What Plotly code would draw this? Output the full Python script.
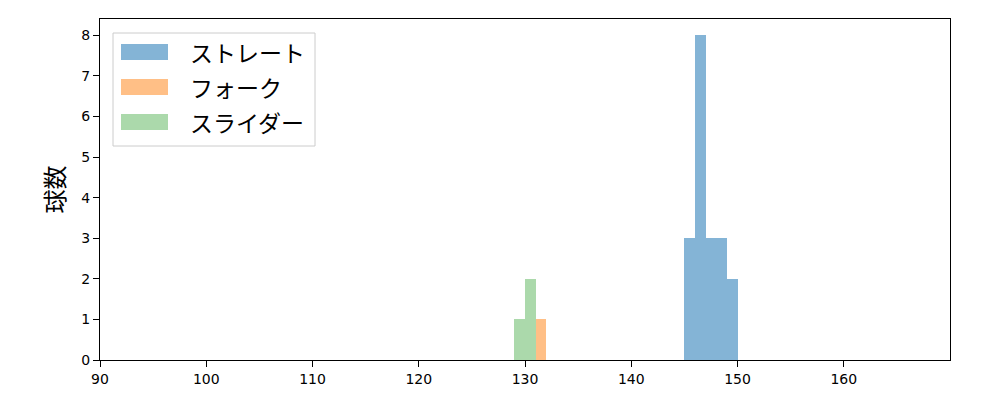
import plotly.graph_objects as go

# Histogram bins (width 1) and counts
series_names = ["ストレート", "フォーク", "スライダー"]
straight_bins = [145, 146, 147, 148, 149]
straight_counts = [3, 8, 3, 3, 2]
fork_bins = [131]
fork_counts = [1]
slider_bins = [129, 130]
slider_counts = [1, 2]
colors = ["rgba(31,119,180,0.55)", "rgba(255,127,14,0.5)", "rgba(44,160,44,0.4)"]
x_ticks = [90, 100, 110, 120, 130, 140, 150, 160]
y_ticks = [0, 1, 2, 3, 4, 5, 6, 7, 8]

JP = "Noto Sans CJK JP"
NUM = "DejaVu Sans"
OFF = 8  # page body margin
W, H = 1000, 400
# target plot area in screenshot pixels: x 100..950, y 19..360
L, T = 100 - OFF, 19 - OFF
pw, ph = 850, 341
R = W - L - pw
B = H - T - ph

def px(x):
    return (x - 100) / pw

def py(y):
    return (360 - y) / ph

fig = go.Figure()
for name, bins, counts, col in zip(series_names,
                                   [straight_bins, fork_bins, slider_bins],
                                   [straight_counts, fork_counts, slider_counts],
                                   colors):
    fig.add_trace(go.Bar(
        x=[b + 0.5 for b in bins], y=counts, width=1.0, name=name,
        marker=dict(color=col, line=dict(width=0)), showlegend=False,
    ))

# custom legend
shapes = [dict(type="rect", xref="paper", yref="paper",
               x0=px(113), x1=px(315), y0=py(146), y1=py(33),
               line=dict(color="#cccccc", width=1), fillcolor="rgba(255,255,255,0.8)", layer="above")]
annotations = []
for i, (name, col) in enumerate(zip(series_names, colors)):
    cy = 52 + 35 * i
    shapes.append(dict(type="rect", xref="paper", yref="paper",
                       x0=px(121), x1=px(168), y0=py(cy + 8), y1=py(cy - 8),
                       line=dict(width=0), fillcolor=col, layer="above"))
    annotations.append(dict(xref="paper", yref="paper", x=px(188), y=py(cy),
                            text=name, showarrow=False, xanchor="left", yanchor="middle",
                            font=dict(family=JP, size=23, color="black")))

axis_common = dict(ticks="outside", ticklen=6, tickwidth=1.2, tickcolor="black", showline=True,
                   linecolor="black", linewidth=1.3, mirror=True, showgrid=False,
                   zeroline=False, tickfont=dict(family=NUM, size=14, color="black"))

fig.update_layout(
    width=W, height=H, margin=dict(l=L, r=R, t=T, b=B),
    barmode="overlay", bargap=0,
    plot_bgcolor="white", paper_bgcolor="white",
    font=dict(family=NUM, size=14, color="black"),
    shapes=shapes, annotations=annotations,
    xaxis=dict(range=[90, 170], tickvals=x_ticks, **axis_common),
    yaxis=dict(range=[0, 8.4], tickvals=y_ticks,
               title=dict(text="球数", font=dict(family=JP, size=24), standoff=9),
               **axis_common),
)

fig.write_html("out.html")
